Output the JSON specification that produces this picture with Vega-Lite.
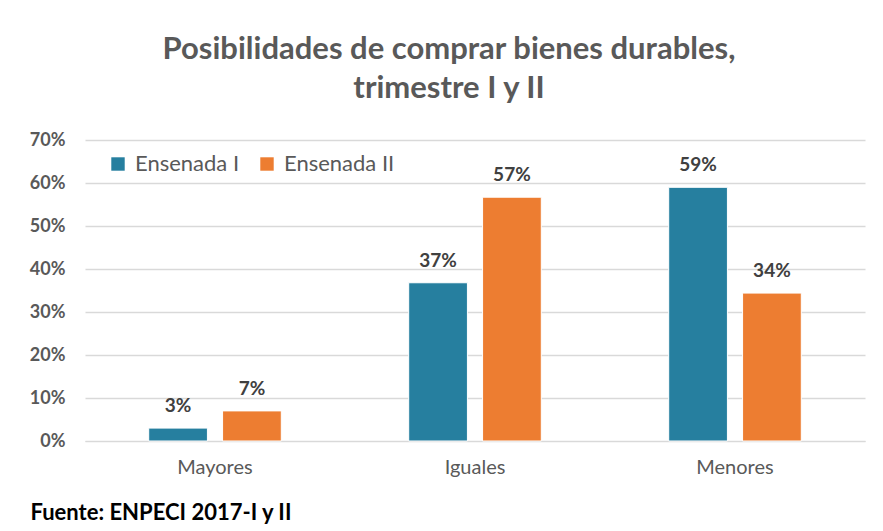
{
  "$schema": "https://vega.github.io/schema/vega-lite/v6.json",
  "width": 780,
  "height": 301,
  "autosize": {"type": "none"},
  "padding": {"left": 85, "top": 140, "right": 18, "bottom": 90},
  "background": "white",
  "title": {
    "text": ["Posibilidades de comprar bienes durables,", "trimestre I y II"],
    "anchor": "middle",
    "frame": "group",
    "dx": -26,
    "offset": 26,
    "font": "Lato",
    "fontSize": 31,
    "fontWeight": "bold",
    "color": "#595959",
    "lineHeight": 39
  },
  "data": {
    "values": [
      {"categoria": "Mayores", "serie": "Ensenada I", "valor": 0.03},
      {"categoria": "Mayores", "serie": "Ensenada II", "valor": 0.07},
      {"categoria": "Iguales", "serie": "Ensenada I", "valor": 0.368},
      {"categoria": "Iguales", "serie": "Ensenada II", "valor": 0.567},
      {"categoria": "Menores", "serie": "Ensenada I", "valor": 0.59},
      {"categoria": "Menores", "serie": "Ensenada II", "valor": 0.344}
    ]
  },
  "encoding": {
    "x": {
      "field": "categoria",
      "type": "nominal",
      "sort": null,
      "scale": {"paddingInner": 0.49, "paddingOuter": 0.245},
      "axis": {
        "title": "Fuente: ENPECI 2017-I y II",
        "titleX": -55,
        "titleY": 71,
        "titleAnchor": "start",
        "titleAlign": "left",
        "titleBaseline": "middle",
        "titleFont": "Lato",
        "titleFontSize": 22,
        "titleFontWeight": "bold",
        "titleColor": "#000000",
        "labelAngle": 0,
        "labelFont": "Lato",
        "labelFontSize": 20,
        "labelColor": "#595959",
        "labelPadding": 16,
        "ticks": false,
        "domainColor": "#d9d9d9"
      }
    },
    "xOffset": {
      "field": "serie",
      "type": "nominal",
      "scale": {"paddingInner": 0.205, "paddingOuter": 0}
    },
    "y": {
      "field": "valor",
      "type": "quantitative",
      "scale": {"domain": [0, 0.7], "nice": false},
      "axis": {
        "title": null,
        "format": ".0%",
        "values": [0, 0.1, 0.2, 0.3, 0.4, 0.5, 0.6, 0.7],
        "labelFont": "Lato",
        "labelFontSize": 18,
        "labelFontWeight": "bold",
        "labelColor": "#595959",
        "labelPadding": 20,
        "ticks": false,
        "domain": false,
        "gridColor": "#d9d9d9",
        "gridWidth": 1.3
      }
    }
  },
  "layer": [
    {
      "mark": {"type": "bar", "stroke": "white", "strokeWidth": 1},
      "encoding": {
        "color": {
          "field": "serie",
          "type": "nominal",
          "scale": {"domain": ["Ensenada I", "Ensenada II"], "range": ["#267f9f", "#ed7d31"]},
          "legend": {
            "title": null,
            "orient": "none",
            "direction": "horizontal",
            "legendX": 22,
            "legendY": 13,
            "symbolType": "square",
            "symbolSize": 180,
            "symbolStrokeWidth": 0,
            "symbolOpacity": 1,
            "labelFont": "Lato",
            "labelFontSize": 22,
            "labelColor": "#595959",
            "labelOffset": 6,
            "columnPadding": 16
          }
        }
      }
    },
    {
      "mark": {
        "type": "text",
        "dy": -22,
        "font": "Lato",
        "fontSize": 19,
        "fontWeight": "bold",
        "color": "#404040"
      },
      "encoding": {
        "text": {"field": "valor", "type": "quantitative", "format": ".0%"}
      }
    }
  ],
  "config": {
    "view": {"stroke": null}
  }
}
